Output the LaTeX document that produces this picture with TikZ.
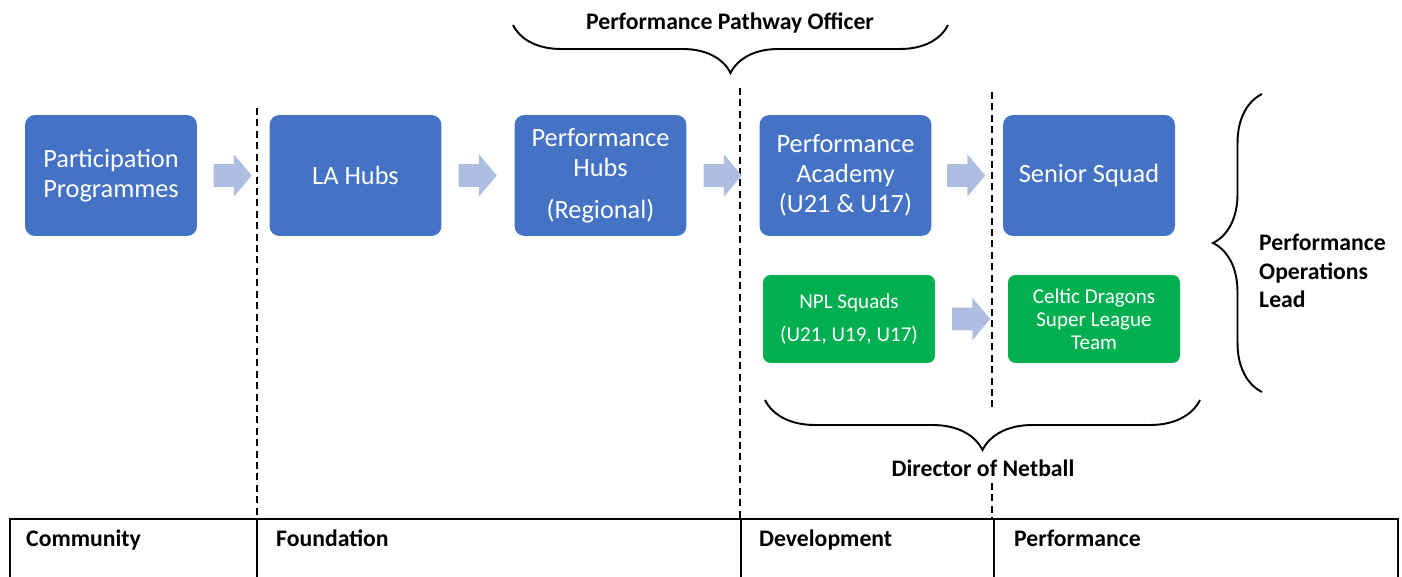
\documentclass[tikz,border=0pt]{standalone}
\usepackage{fontspec}
\setmainfont{Carlito}
\usetikzlibrary{calc,shapes.arrows,decorations.pathreplacing}
\definecolor{boxblue}{HTML}{4472C4}
\definecolor{boxgreen}{HTML}{00B050}
\definecolor{flowblue}{HTML}{AEBEE1}

\tikzset{
  stage/.style={fill=boxblue,rounded corners=0.2cm,minimum width=3.44cm,minimum height=2.42cm,
    inner sep=0pt,text=white,align=center,font=\fontsize{15}{17}\selectfont},
  squad/.style={fill=boxgreen,rounded corners=0.15cm,minimum width=3.44cm,minimum height=1.76cm,
    inner sep=0pt,text=white,align=center,font=\fontsize{12}{13}\selectfont},
  flow/.style={single arrow,fill=flowblue,inner sep=0pt,minimum height=0.76cm,
    single arrow head extend=0.2cm,single arrow tip angle=100,anchor=tip},
  role/.style={font=\bfseries\fontsize{13.5}{16.4}\selectfont,align=left},
  bracket/.style={decorate,line width=1.1pt},
  divider/.style={dashed,line width=0.85pt,dash pattern=on 4pt off 2.5pt}
}

\begin{document}
\begin{tikzpicture}[x=0.02cm,y=-0.02cm]
  \useasboundingbox (0,0) rectangle (1402,577);
  % dashed stage dividers
  \draw[divider] (257,108) -- (257,519);
  \draw[divider] (740,88) -- (740,519);
  \draw[divider] (992,92) -- (992,410);
  \draw[divider] (992,483) -- (992,519);
  % pathway boxes
  \node[stage] (pp) at (111,175.5) {Participation\\Programmes};
  \node[stage] (la) at (355.5,175.5) {LA Hubs};
  \node[stage] (ph) at (600.5,175.5) {Performance\\Hubs\\[7pt](Regional)};
  \node[stage] (pa) at (845.5,175.5) {Performance\\Academy\\(U21 \& U17)};
  \node[stage] (ss) at (1089,175.5) {Senior Squad};
  \node[squad] (npl) at (849,319) {NPL Squads\\[0.2cm](U21, U19, U17)};
  \node[squad] (cd) at (1094,319) {Celtic Dragons\\Super League\\Team};
  % block arrows between boxes
  \foreach \a/\b in {pp/la,la/ph,ph/pa,pa/ss,npl/cd}
    \node[flow] (\a-\b) at ($(\b.west)+(-17,0)$) {\rule{0pt}{0.44cm}};
  % braces and roles
  \draw[bracket,decoration={brace,amplitude=0.96cm}] (948,25) -- (513,25);
  \node[role] (ppo) at (730,23) {Performance Pathway Officer};
  \draw[bracket,decoration={brace,amplitude=1cm}] (1200,400) -- (765,400);
  \node[role] (don) at (983,468) {Director of Netball};
  \draw[bracket,decoration={brace,amplitude=0.98cm}] (1262,392) -- (1262,94);
  \node[role,anchor=west] (pol) at (1253,271) {Performance\\Operations\\Lead};
  % stage table
  \draw[line width=1pt] (10,577) -- (10,519) -- (1398,519) -- (1398,577);
  \draw[line width=1pt] (257,519) -- (257,577);
  \draw[line width=1pt] (741,519) -- (741,577);
  \draw[line width=1pt] (994,519) -- (994,577);
  \node[role,anchor=base west] (com) at (20,546) {Community};
  \node[role,anchor=base west] (fnd) at (270,546) {Foundation};
  \node[role,anchor=base west] (dev) at (753,546) {Development};
  \node[role,anchor=base west] (prf) at (1008,546) {Performance};
\end{tikzpicture}
\end{document}
